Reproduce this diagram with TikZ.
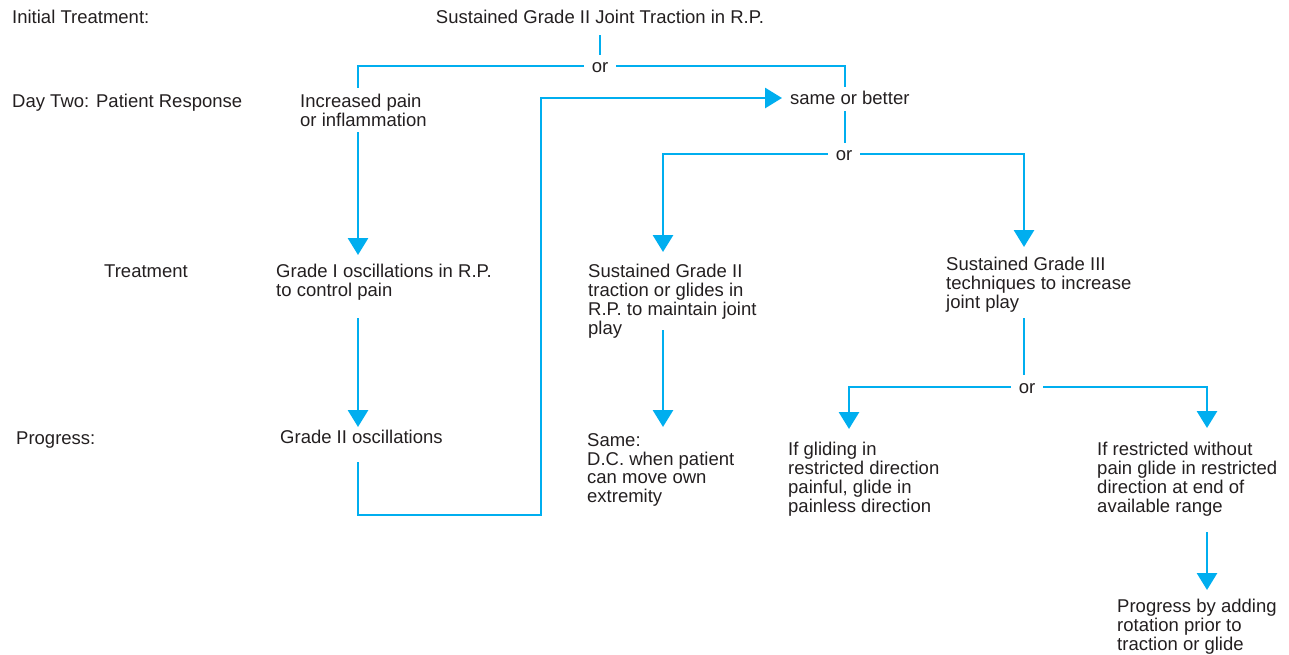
\documentclass[tikz,border=0pt]{standalone}
\usepackage{fontspec}
\setmainfont{Liberation Sans}
\usetikzlibrary{arrows.meta}
\definecolor{flow}{RGB}{0,174,239}
\definecolor{ink}{RGB}{35,31,32}
\newcommand{\dfont}{\fontsize{18.5}{18.8}\selectfont}
\begin{document}
\begin{tikzpicture}[x=1pt,y=-1pt,
  lbl/.style={anchor=north west,inner sep=0pt,align=left,font=\dfont,text=ink},
  ornode/.style={inner xsep=8pt,inner ysep=0pt,font=\dfont,text=ink},
  ln/.style={draw=flow,line width=2.9pt},
  arr/.style={ln,-{Triangle[width=20pt,length=17pt]}}]
\useasboundingbox (0,0) rectangle (1289,654);

% row labels
\node[lbl] (it) at (12,10.2) {Initial Treatment:};
\node[lbl] (dtp) at (12,94.2) {Day Two: Patient Response};
\node[lbl] (trt) at (104,264.2) {Treatment};
\node[lbl] (prog) at (16,431.2) {Progress:};

% content nodes
\node[lbl,anchor=north] (top) at (600,10.2) {Sustained Grade II Joint Traction in R.P.};
\node[lbl] (inc) at (300,94.2) {Increased pain\\or inflammation};
\node[lbl] (same) at (790,91.2) {same or better};
\node[lbl] (g1) at (276,264.2) {Grade I oscillations in R.P.\\to control pain};
\node[lbl] (s2) at (588,264.2) {Sustained Grade II\\traction or glides in\\R.P. to maintain joint\\play};
\node[lbl] (s3) at (946,257.2) {Sustained Grade III\\techniques to increase\\joint play};
\node[lbl] (g2) at (280,430.2) {Grade II oscillations};
\node[lbl] (samec) at (587,433.2) {Same:\\D.C. when patient\\can move own\\extremity};
\node[lbl] (ifg) at (788,442.2) {If gliding in\\restricted direction\\painful, glide in\\painless direction};
\node[lbl] (ifr) at (1097,442.2) {If restricted without\\pain glide in restricted\\direction at end of\\available range};
\node[lbl] (pba) at (1117,599.2) {Progress by adding\\rotation prior to\\traction or glide};

% "or" junctions (text set slightly below the line level)
\node[ornode,yshift=-1.5pt] (or1) at (600,66) {or};
\node[ornode,yshift=-1.5pt] (or2) at (844,154) {or};
\node[ornode,yshift=-1.5pt] (or3) at (1027,387) {or};

% connector end points
\coordinate (a1) at (600,35);
\coordinate (a2) at (600,55);
\coordinate (incT) at (358,88);
\coordinate (sameT) at (845,87);
\coordinate (incB) at (358,132);
\coordinate (g1T) at (358,255);
\coordinate (g1B) at (358,318);
\coordinate (g2T) at (358,427);
\coordinate (g2B) at (358,462);
\coordinate (fb1) at (358,515);
\coordinate (fb2) at (541,515);
\coordinate (fb3) at (541,98);
\coordinate (sameL) at (782,98);
\coordinate (sameB) at (845,111);
\coordinate (or2T) at (845,143);
\coordinate (s2T) at (663,252);
\coordinate (s3T) at (1024,247);
\coordinate (s2B) at (663,330);
\coordinate (samecT) at (663,427);
\coordinate (s3B) at (1024,318);
\coordinate (or3T) at (1024,375);
\coordinate (ifgT) at (849,429);
\coordinate (ifrT) at (1207,428);
\coordinate (ifrB) at (1207,532);
\coordinate (pbaT) at (1207,590);

% connectors (horizontal runs stay at the junction's line level)
\draw[ln] (a1) -- (a2);
\draw[ln] (or1.west |- 0,66) -| (incT);
\draw[ln] (or1.east |- 0,66) -| (sameT);
\draw[arr] (incB) -- (g1T);
\draw[arr] (g1B) -- (g2T);
\draw[arr] (g2B) -- (fb1) -- (fb2) -- (fb3) -- (sameL);
\draw[ln] (sameB) -- (or2T);
\draw[arr] (or2.west |- 0,154) -| (s2T);
\draw[arr] (or2.east |- 0,154) -| (s3T);
\draw[arr] (s2B) -- (samecT);
\draw[ln] (s3B) -- (or3T);
\draw[arr] (or3.west |- 0,387) -| (ifgT);
\draw[arr] (or3.east |- 0,387) -| (ifrT);
\draw[arr] (ifrB) -- (pbaT);
\end{tikzpicture}
\end{document}
